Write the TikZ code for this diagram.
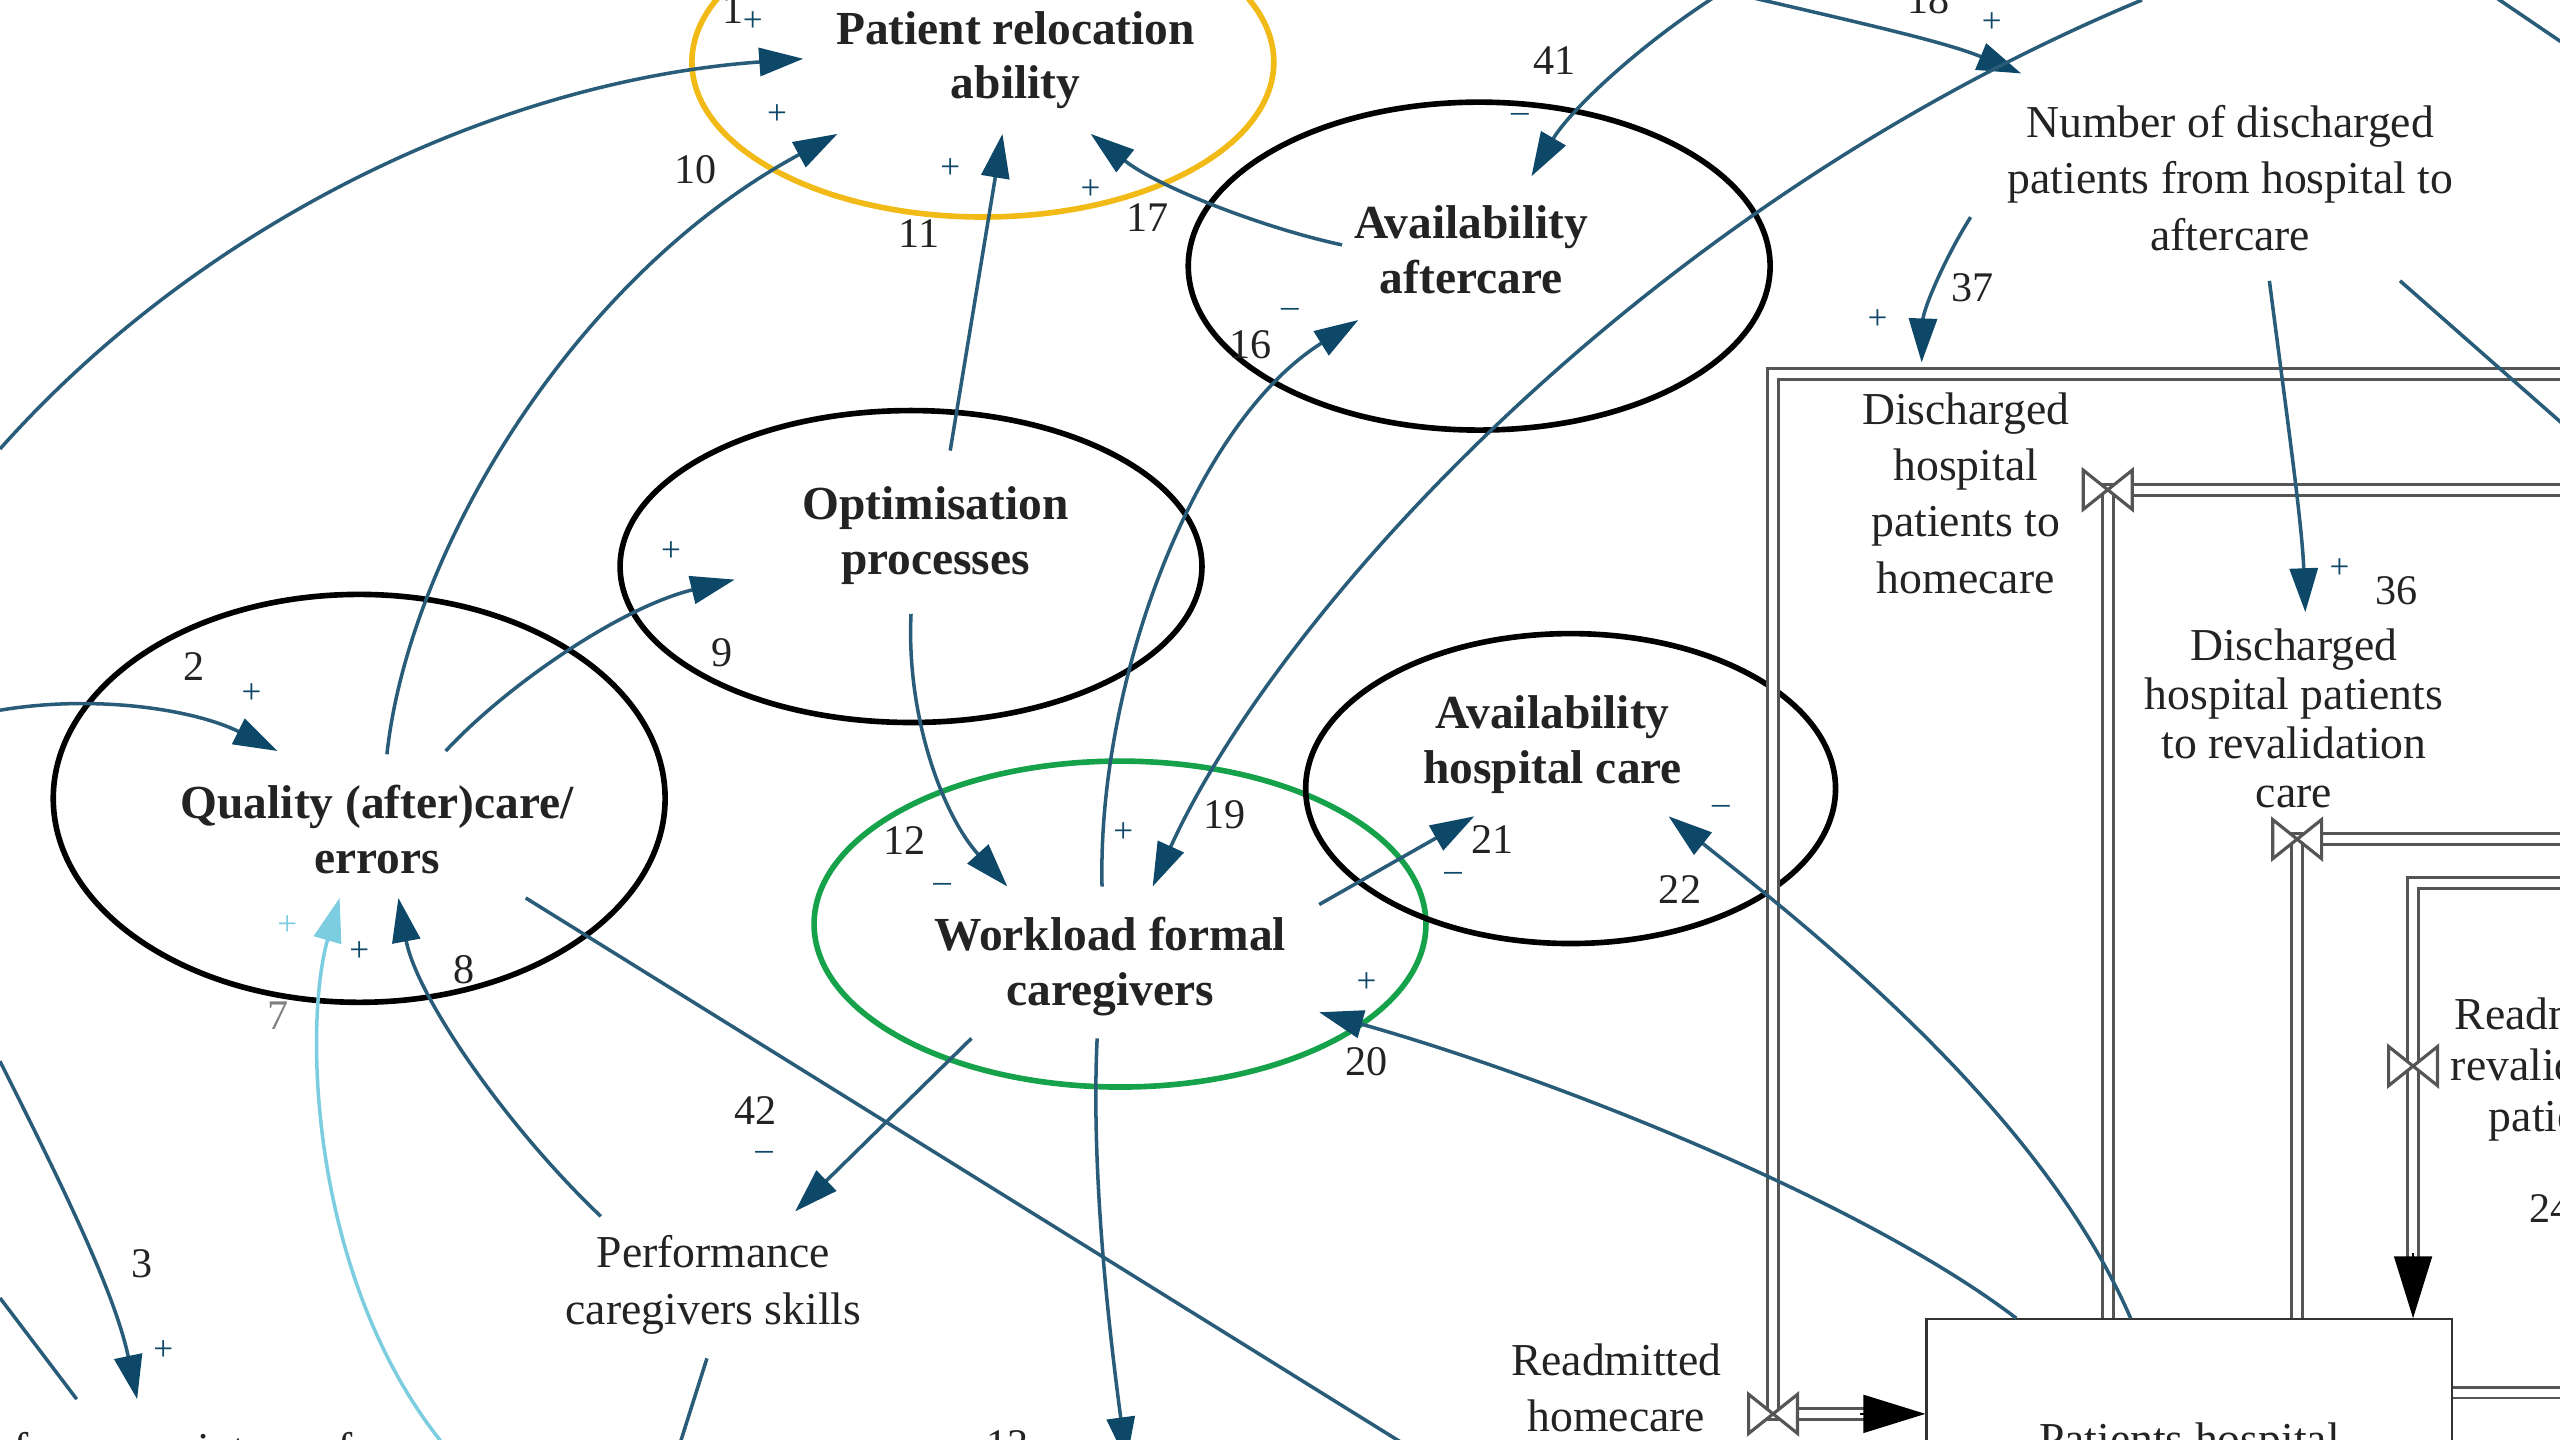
\documentclass[tikz,border=0pt]{standalone}
\usepackage{fontspec}
\setmainfont{Liberation Serif}
\usetikzlibrary{arrows.meta}

\definecolor{linkcol}{RGB}{40,92,120}
\definecolor{headcol}{RGB}{14,72,104}
\definecolor{lightlink}{RGB}{125,205,225}
\definecolor{goldring}{RGB}{242,186,22}
\definecolor{greenring}{RGB}{22,162,74}
\definecolor{pipecol}{RGB}{85,85,85}
\definecolor{txtcol}{RGB}{35,35,35}

\tikzset{
  var/.style={align=center, text=txtcol, inner sep=2pt, font=\fontsize{13}{16}\selectfont},
  keyvar/.style={var, font=\fontsize{13.5}{15.5}\selectfont\bfseries},
  ring/.style={line width=1.6pt},
  link/.style={draw=linkcol, line width=1pt, -{Triangle[length=4.4mm,width=2.8mm,color=headcol]}},
  linkplain/.style={draw=linkcol, line width=1pt},
  lnum/.style={text=txtcol, inner sep=0pt, font=\fontsize{12}{12}\selectfont},
  sgn/.style={text=headcol, inner sep=0pt, font=\fontsize{10}{10}\selectfont},
  pipe/.style={draw=pipecol, double=white, double distance=0.8mm, line width=0.8pt},
  pipehead/.style={draw=black, line width=0.5pt, -{Triangle[length=6.2mm,width=3.8mm]}},
  valve/.pic={\filldraw[fill=white, draw=pipecol, line width=0.9pt]
    (-15,-12) -- (15,12) -- (15,-12) -- (-15,12) -- cycle;}
}

\begin{document}
\begin{tikzpicture}[x=0.1633mm, y=-0.1633mm]
  \useasboundingbox (0,0) rectangle (1568,882);

  % Variables
  \node[keyvar] (pra) at (622,37) {Patient relocation\\ability};
  \node[keyvar] (avaf) at (901,153) {Availability\\aftercare};
  \node[keyvar] (opt) at (573,328) {Optimisation\\processes};
  \node[keyvar] (qual) at (231,508) {Quality (after)care/\\errors};
  \node[keyvar] (work) at (680,592) {Workload formal\\caregivers};
  \node[keyvar] (avho) at (951,456) {Availability\\hospital care};
  \node[var] (ndis) at (1366,109) {Number of discharged\\patients from hospital to\\aftercare};
  \node[var] (dhh) at (1204,302) {Discharged\\hospital\\patients to\\homecare};
  \node[var, font=\fontsize{13}{14}\selectfont] (dhr) at (1405,440) {Discharged\\hospital patients\\to revalidation\\care};
  \node[var] (perf) at (437,787) {Performance\\caregivers skills};
  \node[var] (readh) at (990,850) {Readmitted\\homecare};
  \node[var, font=\fontsize{13}{14.5}\selectfont] (readr) at (1568,655) {Readmitted\\revalidation\\patients};
  \node[var, anchor=west] (pint) at (-34,887) {Performance intern of};
  \node[var, draw=black!80, line width=0.6pt, fill=white,
        minimum width=52.6mm, minimum height=24.8mm] (phos) at (1341,884) {Patients hospital};

  % Highlight rings
  \draw[ring, goldring] (602,38) ellipse [x radius=29.1mm, y radius=15.5mm];
  \draw[ring, black] (906,163) ellipse [x radius=29.1mm, y radius=16.4mm];
  \draw[ring, black] (558,347) ellipse [x radius=29.1mm, y radius=15.6mm];
  \draw[ring, black] (220,489) ellipse [x radius=30.6mm, y radius=20.4mm];
  \draw[ring, greenring] (686,566) ellipse [x radius=30.6mm, y radius=16.3mm];
  \draw[ring, black] (962,483) ellipse [x radius=26.5mm, y radius=15.5mm];

  % Stocks and flows
  \coordinate (vRH) at (1086,866);
  \coordinate (vDH) at (1291,300);
  \coordinate (vDR) at (1407,514);
  \coordinate (vRR) at (1478,653);
  \coordinate (outR) at (1575,853);
  \draw[pipe] (1575,229) -| (vRH) -- ([xshift=-6mm]vRH -| phos.west);
  \draw[pipehead] ([xshift=-6.5mm]vRH -| phos.west) -- (vRH -| phos.west);
  \draw[pipe] (vDH |- phos.north) -- (vDH) -- (1575,300);
  \draw[pipe] (vDR |- phos.north) -- (vDR) -- (1575,514);
  \draw[pipe] (1575,541) -| (vRR) -- ([yshift=6mm]vRR |- phos.north);
  \draw[pipehead] ([yshift=6.5mm]vRR |- phos.north) -- (vRR |- phos.north);
  \draw[pipe] (phos.east |- outR) -- (outR);
  \pic at (vRH) {valve};
  \pic at (vDH) {valve};
  \pic at (vDR) {valve};
  \pic at (vRR) {valve};

  % Causal links
  \draw[link] (0,275) .. controls (120,140) and (300,50) .. ([shift={(-130,-1)}]pra.center);
  \draw[link] ([shift={(6,-46)}]qual.center) .. controls (250,340) and (350,170) .. ([shift={(-109,45)}]pra.center);
  \draw[link] ([shift={(9,-52)}]opt.center) -- ([shift={(-8,45)}]pra.center);
  \draw[link] ([shift={(-79,-3)}]avaf.center) .. controls (775,140) and (710,115) .. ([shift={(46,45)}]pra.center);
  \draw[link] (1055,-5) .. controls (1000,30) and (960,70) .. ([shift={(37,-45)}]avaf.center);
  \draw[link] (1058,-5) .. controls (1130,12) and (1190,25) .. ([shift={(-128,-64)}]ndis.center);
  \draw[link] (1312,0) .. controls (1000,130) and (780,380) .. ([shift={(26,-49)}]work.center);
  \draw[link] ([shift={(-5,-49)}]work.center) .. controls (672,420) and (730,260) .. ([shift={(-69,43)}]avaf.center);
  \draw[link] ([shift={(42,-48)}]qual.center) .. controls (310,420) and (380,372) .. ([shift={(-123,27)}]opt.center);
  \draw[link] (0,435) .. controls (60,425) and (120,435) .. ([shift={(-61,-48)}]qual.center);
  \draw[link] ([shift={(-15,48)}]opt.center) .. controls (555,440) and (578,500) .. ([shift={(-63,-49)}]work.center);
  \draw[link] ([shift={(128,-38)}]work.center) -- ([shift={(-48,44)}]avho.center);
  \draw[link] ([shift={(-36,0)}]phos.north) .. controls (1250,680) and (1110,570) .. ([shift={(71,44)}]avho.center);
  \draw[link] ([shift={(-106,0)}]phos.north) .. controls (1140,735) and (950,660) .. ([shift={(128,28)}]work.center);
  \draw[link] ([shift={(-69,-42)}]perf.center) .. controls (310,690) and (255,610) .. ([shift={(13,42)}]qual.center);
  \draw[link, draw=lightlink, -{Triangle[length=4.4mm,width=2.8mm,color=lightlink]}]
    (285,900) .. controls (190,800) and (185,630) .. ([shift={(-23,42)}]qual.center);
  \draw[link] ([shift={(-85,44)}]work.center) -- ([shift={(50,-45)}]perf.center);
  \draw[linkplain] ([shift={(91,42)}]qual.center) -- (872,892);
  \draw[link] ([shift={(-8,44)}]work.center) .. controls (668,720) and (680,820) .. (690,895);
  \draw[linkplain] ([shift={(-4,45)}]perf.center) -- (414,892);
  \draw[link] (0,650) .. controls (35,720) and (70,790) .. ([shift={(118,-30)}]pint.west);
  \draw[linkplain] (0,795) -- ([shift={(81,-30)}]pint.west);
  \draw[link] ([shift={(-159,24)}]ndis.center) .. controls (1190,160) and (1178,190) .. ([shift={(-27,-80)}]dhh.center);
  \draw[link] ([shift={(24,63)}]ndis.center) .. controls (1400,250) and (1410,320) .. ([shift={(7,-65)}]dhr.center);
  \draw[linkplain] ([shift={(104,63)}]ndis.center) -- (1578,267);
  \draw[linkplain] (1528,-2) -- (1578,32);

  % Loop numbers and polarities
  \node[lnum] (n1) at (449,6) {1};     \node[sgn] (s1) at (461,13) {+};
  \node[lnum] (n10) at (426,104) {10}; \node[sgn] (s10) at (476,70) {+};
  \node[lnum] (n11) at (563,143) {11}; \node[sgn] (s11) at (582,103) {+};
  \node[lnum] (n17) at (703,133) {17}; \node[sgn] (s17) at (668,116) {+};
  \node[sgn] (s0) at (766,-1) {--};
  \node[lnum] (n41) at (952,37) {41};  \node[sgn] (s41) at (931,72) {--};
  \node[lnum] (n18) at (1181,0) {18};  \node[sgn] (s18) at (1220,14) {+};
  \node[lnum] (n37) at (1208,176) {37}; \node[sgn] (s37) at (1150,196) {+};
  \node[lnum] (n36) at (1468,362) {36}; \node[sgn] (s36) at (1433,348) {+};
  \node[lnum] (n16) at (766,211) {16}; \node[sgn] (s16) at (790,192) {--};
  \node[lnum] (n2) at (119,408) {2};   \node[sgn] (s2) at (154,425) {+};
  \node[lnum] (n9) at (442,400) {9};   \node[sgn] (s9) at (411,338) {+};
  \node[lnum] (n12) at (554,515) {12}; \node[sgn] (s12) at (577,544) {--};
  \node[lnum] (n19) at (750,499) {19}; \node[sgn] (s19) at (688,510) {+};
  \node[lnum] (n21) at (914,514) {21}; \node[sgn] (s21) at (890,537) {--};
  \node[lnum] (n22) at (1029,545) {22}; \node[sgn] (s22) at (1054,496) {--};
  \node[lnum] (n20) at (837,650) {20}; \node[sgn] (s20) at (837,602) {+};
  \node[lnum] (n8) at (284,594) {8};   \node[sgn] (s8) at (220,583) {+};
  \node[lnum, text=gray] (n7) at (170,622) {7}; \node[sgn, text=lightlink] (s7) at (176,567) {+};
  \node[lnum] (n42) at (463,680) {42}; \node[sgn] (s42) at (468,708) {--};
  \node[lnum] (n3) at (87,774) {3};    \node[sgn] (s3) at (100,827) {+};
  \node[lnum] (n13) at (617,885) {13};
  \node[lnum] (n24) at (1562,740) {24};
\end{tikzpicture}
\end{document}
